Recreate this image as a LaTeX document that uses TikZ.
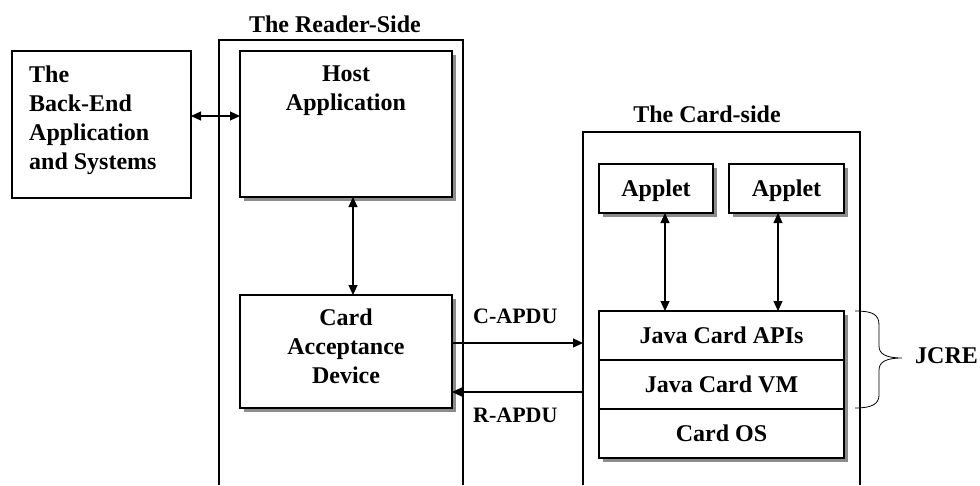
\documentclass[tikz,border=0pt]{standalone}
\usepackage{fontspec}
\setmainfont{Liberation Serif}
\usetikzlibrary{arrows.meta,shadows}
\begin{document}
\begin{tikzpicture}[x=1pt,y=-1pt,
  box/.style={draw, line width=1.8pt, fill=white, inner sep=0pt, outer sep=0pt, anchor=north west},
  shbox/.style={box, general shadow={fill=black!45, shadow xshift=4pt, shadow yshift=-4pt}},
  cont/.style={line width=1.8pt},
  conn/.style={line width=1.2pt, -{Triangle[length=10pt,width=9pt]}},
  bconn/.style={line width=1.2pt, {Triangle[length=10pt,width=9pt]}-{Triangle[length=10pt,width=9pt]}},
  txt/.style={font=\fontsize{24}{29}\selectfont\bfseries, inner sep=0pt},
  lbl/.style={font=\fontsize{22}{26}\selectfont\bfseries, inner sep=0pt},
  one/.style={text height=16.5pt, text depth=0pt}
]
\useasboundingbox (0,0) rectangle (980,485);

% containers
\draw[cont] (219,485) -- (219,40) -- (463,40) -- (463,485);
\draw[cont] (583,485) -- (583,132) -- (860,132) -- (860,485);
\coordinate (cin) at (583,343);
\coordinate (rout) at (583,392);
\coordinate (ybh) at (0,116);
\coordinate (xhc) at (353,0);
\coordinate (xa1) at (665,0);
\coordinate (xa2) at (778,0);

\node[txt, anchor=base] (rlabel) at (335,32) {The Reader-Side};
\node[txt, anchor=base] (clabel) at (707,122) {The Card-side};

% back-end
\node[box, minimum width=179pt, minimum height=147pt] (backend) at (12,51) {};
\node[txt, align=left, anchor=north west] (betext) at (29,65.7) {The\\Back-End\\Application\\and Systems};

% host
\node[shbox, minimum width=212pt, minimum height=146pt] (host) at (240,51) {};
\node[txt, align=center, anchor=north] (hosttext) at (346,65.7) {Host\\Application};

% card acceptance device
\node[shbox, minimum width=212pt, minimum height=113pt] (cad) at (240,295) {};
\node[txt, align=center, anchor=north] (cadtext) at (346,308.7) {Card\\Acceptance\\Device};

% applets
\node[shbox, txt, one, minimum width=114pt, minimum height=49pt] (ap1) at (599,164) {Applet};
\node[shbox, txt, one, minimum width=115pt, minimum height=49pt] (ap2) at (729,164) {Applet};

% stack
\node[shbox, minimum width=245pt, minimum height=147pt] (stack) at (599,311) {};
\node[box, txt, one, minimum width=245pt, minimum height=49pt] (apis) at (599,311) {Java Card APIs};
\node[box, txt, one, minimum width=245pt, minimum height=49pt] (vm) at (599,360) {Java Card VM};
\node[box, txt, one, minimum width=245pt, minimum height=49pt] (os) at (599,409) {Card OS};

% connectors
\draw[bconn] (backend.east |- ybh) -- (host.west |- ybh);
\draw[bconn] (host.south -| xhc) -- (cad.north -| xhc);
\draw[conn] (cad.east |- cin) -- (cin);
\draw[conn] (rout) -- (cad.east |- rout);
\draw[bconn] (ap1.south -| xa1) -- (apis.north -| xa1);
\draw[bconn] (ap2.south -| xa2) -- (apis.north -| xa2);

\node[lbl, anchor=base west] (capdu) at (473,323) {C-APDU};
\node[lbl, anchor=base west] (rapdu) at (473,422) {R-APDU};

% brace
\draw[line width=0.8pt] (855,311) .. controls (872,311) and (879,314) .. (879,325) -- (879,346)
  .. controls (879,354) and (886,358) .. (902,358)
  .. controls (886,358) and (879,362) .. (879,370) -- (879,395)
  .. controls (879,404) and (872,408) .. (855,408);
\node[txt, anchor=base west] (jcre) at (915,363) {JCRE};
\end{tikzpicture}
\end{document}
